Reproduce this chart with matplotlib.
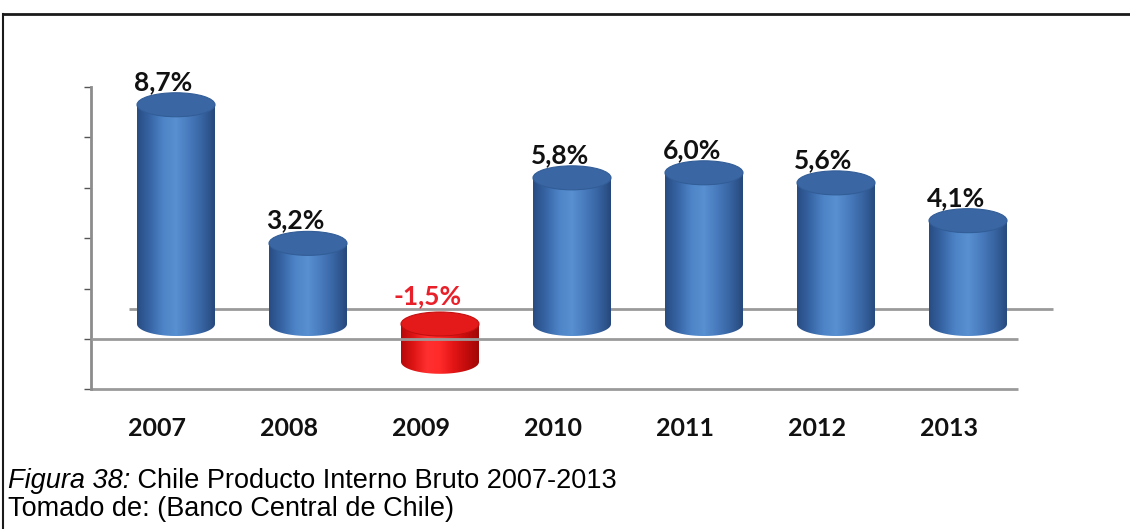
import numpy as np
import matplotlib
matplotlib.use("Agg")
import matplotlib.pyplot as plt
from matplotlib.colors import LinearSegmentedColormap
from matplotlib.patches import Ellipse, PathPatch
from matplotlib.path import Path
from matplotlib.lines import Line2D

years = ['2007', '2008', '2009', '2010', '2011', '2012', '2013']
gdp = [8.7, 3.2, -1.5, 5.8, 6.0, 5.6, 4.1]
ticks = [-2, 0, 2, 4, 6, 8, 10]
caption_italic = 'Figura 38:'
caption_rest = ' Chile Producto Interno Bruto 2007-2013'
caption_source = 'Tomado de: (Banco Central de Chile)'

W, H = 1130, 529
fig = plt.figure(figsize=(W / 100, H / 100), dpi=100)

# axes placed so that category i sits at pixel 157 + 132*i, value 0 at pixel 339
px_x0, px_x1 = 91, 1060
px_top, px_bot = 60, 400
unit = 25.2           # pixels per 1 %
cat = 132.0           # pixels per category
ax = fig.add_axes([px_x0 / W, 1 - px_bot / H, (px_x1 - px_x0) / W, (px_bot - px_top) / H])
xlim = (-0.5, -0.5 + (px_x1 - px_x0) / cat)
ylim = ((339 - px_bot) / unit, (339 - px_top) / unit)

# pseudo 3d depth
dx, dy = 38 / cat, 30 / unit
half_w = 39 / cat
half_h = 12 / unit

blue_cmap = LinearSegmentedColormap.from_list(
    'blue', ['#284c82', '#3765a5', '#4d84c7', '#5890d1', '#487bbd', '#3864a2', '#26497c'])
red_cmap = LinearSegmentedColormap.from_list(
    'red', ['#b50a0a', '#e01515', '#ff3030', '#ff2a2a', '#e41616', '#c40c0c', '#a00808'])
grad = np.linspace(0, 1, 256).reshape(1, -1)

# back wall zero line (behind the bars)
ax.plot([xlim[0] + dx, 6.5 + dx], [dy, dy], color='#9a9a9a', lw=2, zorder=1,
        solid_capstyle='butt')

for i, v in enumerate(gdp):
    xc = i + dx / 2
    base = dy / 2
    top = base + max(v, 0)
    bot = base + min(v, 0)
    x0, x1 = xc - half_w, xc + half_w
    t = np.linspace(np.pi, 2 * np.pi, 60)
    verts = [(x0, top), (x0, bot)]
    verts += list(zip(xc + half_w * np.cos(t), bot + half_h * np.sin(t)))
    verts += [(x1, bot), (x1, top), (x0, top)]
    body = PathPatch(Path(verts), facecolor='none', edgecolor='none', transform=ax.transData)
    ax.add_patch(body)
    cmap = red_cmap if v < 0 else blue_cmap
    im = ax.imshow(grad, extent=[x0, x1, bot - half_h, top], aspect='auto', cmap=cmap,
                   interpolation='bilinear', zorder=2)
    im.set_clip_path(body)
    top_col = '#e41a1a' if v < 0 else '#3a66a3'
    edge_col = '#c21010' if v < 0 else '#325d97'
    ax.add_patch(Ellipse((xc, top), 2 * half_w, 2 * half_h, facecolor=top_col,
                         edgecolor=edge_col, lw=0.8, zorder=3))
    label = f'{v:.1f}%'.replace('.', ',')
    ax.annotate(label, (i + 0.05, top + half_h), xytext=(0, 8 if v < 0 else 3),
                textcoords='offset pixels', ha='center', va='baseline', fontsize=19,
                fontweight='bold', family='Lato',
                color='#e8202a' if v < 0 else '#111111', zorder=5)
    ax.annotate(years[i], (i, ticks[0]), xytext=(0, -39), textcoords='offset pixels',
                ha='center', va='center', fontsize=18, fontweight='bold',
                family='Lato', color='#111111')

# front zero line and floor
ax.plot([-0.5, 6.52], [0, 0], color='#9a9a9a', lw=2, zorder=4, solid_capstyle='butt')
ax.plot([-0.5, 6.52], [ticks[0], ticks[0]], color='#9a9a9a', lw=2, zorder=1,
        solid_capstyle='butt')

ax.set_xlim(*xlim)
ax.set_ylim(*ylim)
ax.set_xticks([])
ax.set_yticks(ticks)
ax.set_yticklabels([])
ax.tick_params(axis='y', direction='out', length=5, width=1, color='#555555')
for s in ['top', 'right', 'bottom']:
    ax.spines[s].set_visible(False)
ax.spines['left'].set_bounds(ticks[0], ticks[-1])
ax.spines['left'].set_color('#8c8c8c')
ax.spines['left'].set_linewidth(2)
ax.patch.set_alpha(0)

# caption
cap_size = 19.5
t1 = fig.text(8 / W, 1 - 481 / H, caption_italic, fontsize=cap_size, style='italic',
              family='Liberation Sans', va='center', ha='left')
ax.annotate(caption_rest, xy=(1, 0), xycoords=t1, va='bottom', ha='left',
            fontsize=cap_size, family='Liberation Sans', annotation_clip=False)
fig.text(8 / W, 1 - 509 / H, caption_source, fontsize=cap_size, family='Liberation Sans',
         va='center', ha='left')

# outer frame (left and top edges)
fig.add_artist(Line2D([3 / W, 3 / W], [0, 1 - 14 / H], color='#1a1a1a', lw=1.5))
fig.add_artist(Line2D([3 / W, 1], [1 - 14 / H, 1 - 14 / H], color='#1a1a1a', lw=2))

fig.savefig('out.png', dpi=100, facecolor='white')
